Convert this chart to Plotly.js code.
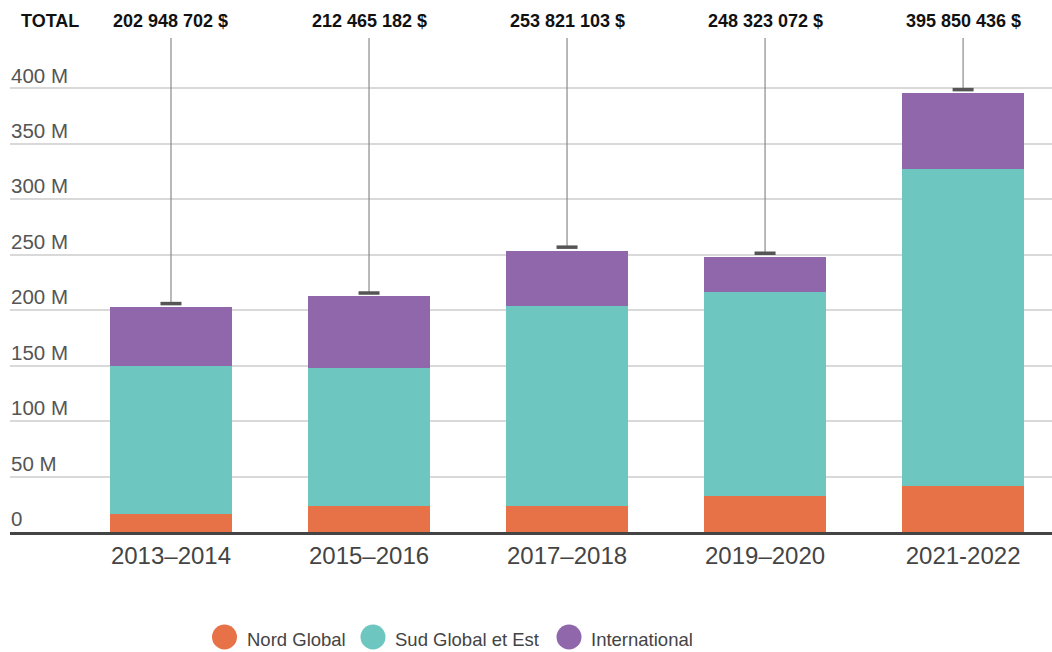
<!DOCTYPE html>
<html>
<head>
<meta charset="utf-8">
<script src="https://cdn.plot.ly/plotly-3.0.1.min.js"></script>
<style>
  html, body { margin: 0; padding: 0; background: #fff; }
  #chart { width: 1052px; height: 652px; }
</style>
</head>
<body>
<div id="chart"></div>
<script>
// ---- data ----
const periods = ["2013–2014", "2015–2016", "2017–2018", "2019–2020", "2021-2022"];
const nordGlobal = [16.4e6, 23.6e6, 23.6e6, 32.6e6, 41.6e6];
const sudGlobalEst = [133.4e6, 124.4e6, 180.2e6, 183.9e6, 285.7e6];
const international = [53.15e6, 64.47e6, 50.0e6, 31.8e6, 68.55e6];
const totals = [202948702, 212465182, 253821103, 248323072, 395850436];
const totalLabels = ["202 948 702 $", "212 465 182 $", "253 821 103 $", "248 323 072 $", "395 850 436 $"];
const yTickVals = [0, 50e6, 100e6, 150e6, 200e6, 250e6, 300e6, 350e6, 400e6];
const yTickText = ["0", "50 M", "100 M", "150 M", "200 M", "250 M", "300 M", "350 M", "400 M"];
const seriesNames = ["Nord Global", "Sud Global et Est", "International"];
const seriesColors = ["#E87248", "#6DC6BF", "#9167AB"];

// ---- layout constants ----
const yMax = 445.4e6;
const markerGap = 3e6;
const fontFam = "Liberation Sans, Arial, Helvetica, sans-serif";

const seriesData = [nordGlobal, sudGlobalEst, international];
const traces = seriesData.map((vals, i) => ({
  type: "bar",
  name: seriesNames[i],
  x: periods,
  y: vals,
  marker: { color: seriesColors[i], line: { width: 0 } },
  width: 0.616,
  showlegend: false,
  hoverinfo: "x+y+name"
}));

// whisker from total up to the top of the plot, with a dash marker at the total
traces.push({
  type: "scatter",
  mode: "markers",
  x: periods,
  y: totals.map(t => t + markerGap),
  marker: { symbol: "line-ew", size: 15, line: { width: 3.5, color: "#555555" }, color: "#555555" },
  error_y: {
    type: "data",
    symmetric: false,
    array: totals.map(t => yMax - (t + markerGap)),
    arrayminus: totals.map(() => 0),
    width: 0,
    thickness: 1.2,
    color: "#8a8a8a"
  },
  cliponaxis: false,
  showlegend: false,
  hoverinfo: "skip"
});

const annotations = [];
annotations.push({
  xref: "paper", yref: "paper", x: 0, y: 1, xshift: 9, yshift: 5,
  xanchor: "left", yanchor: "bottom", showarrow: false,
  text: "<b>TOTAL</b>", font: { family: fontFam, size: 18, color: "#111" }
});
periods.forEach((p, i) => {
  annotations.push({
    xref: "x", yref: "paper", x: p, y: 1, yshift: 5,
    xanchor: "center", yanchor: "bottom", showarrow: false,
    text: "<b>" + totalLabels[i] + "</b>", font: { family: fontFam, size: 18, color: "#111" }
  });
});

// custom legend (large circles)
const legendX = [224.5, 373, 569];
const legendTextX = [245, 393, 589];
const legendY = 637;
const plotL = 10, plotW = 1042, plotT = 38, plotH = 494;
const shapes = [];
seriesNames.forEach((n, i) => {
  const px = (legendX[i] - plotL) / plotW;
  const py = (plotT + plotH - legendY) / plotH;
  shapes.push({
    type: "circle", xref: "paper", yref: "paper",
    xsizemode: "pixel", ysizemode: "pixel",
    xanchor: px, yanchor: py, x0: -12.5, x1: 12.5, y0: -12.5, y1: 12.5,
    fillcolor: seriesColors[i], line: { width: 0 }
  });
  annotations.push({
    xref: "paper", yref: "paper",
    x: (legendTextX[i] - plotL) / plotW, y: (plotT + plotH - 639) / plotH,
    xanchor: "left", yanchor: "middle", showarrow: false,
    text: n, font: { family: fontFam, size: 18.5, color: "#444" }
  });
});

const layout = {
  width: 1052, height: 652,
  margin: { l: plotL, r: 0, t: plotT, b: 652 - plotT - plotH, pad: 0 },
  paper_bgcolor: "#fff", plot_bgcolor: "#fff",
  barmode: "stack",
  showlegend: false,
  font: { family: fontFam },
  xaxis: {
    type: "category",
    range: [-0.813, 4.449],
    showgrid: false, zeroline: false,
    showline: true, linewidth: 3, linecolor: "#444",
    ticks: "",
    tickfont: { family: fontFam, size: 24, color: "#444" },
    fixedrange: true
  },
  yaxis: {
    range: [0, yMax],
    tickvals: yTickVals, ticktext: yTickText,
    ticklabelposition: "inside",
    ticklabeloverflow: "allow",
    ticklabelshift: -13,
    ticklabelstandoff: -2,
    ticks: "",
    showgrid: true, gridcolor: "#d9d9d9", gridwidth: 2,
    zeroline: false, showline: false,
    tickfont: { family: fontFam, size: 20.5, color: "#555" },
    fixedrange: true
  },
  annotations: annotations,
  shapes: shapes
};

Plotly.newPlot("chart", traces, layout, { displayModeBar: false, staticPlot: true });
</script>
</body>
</html>
